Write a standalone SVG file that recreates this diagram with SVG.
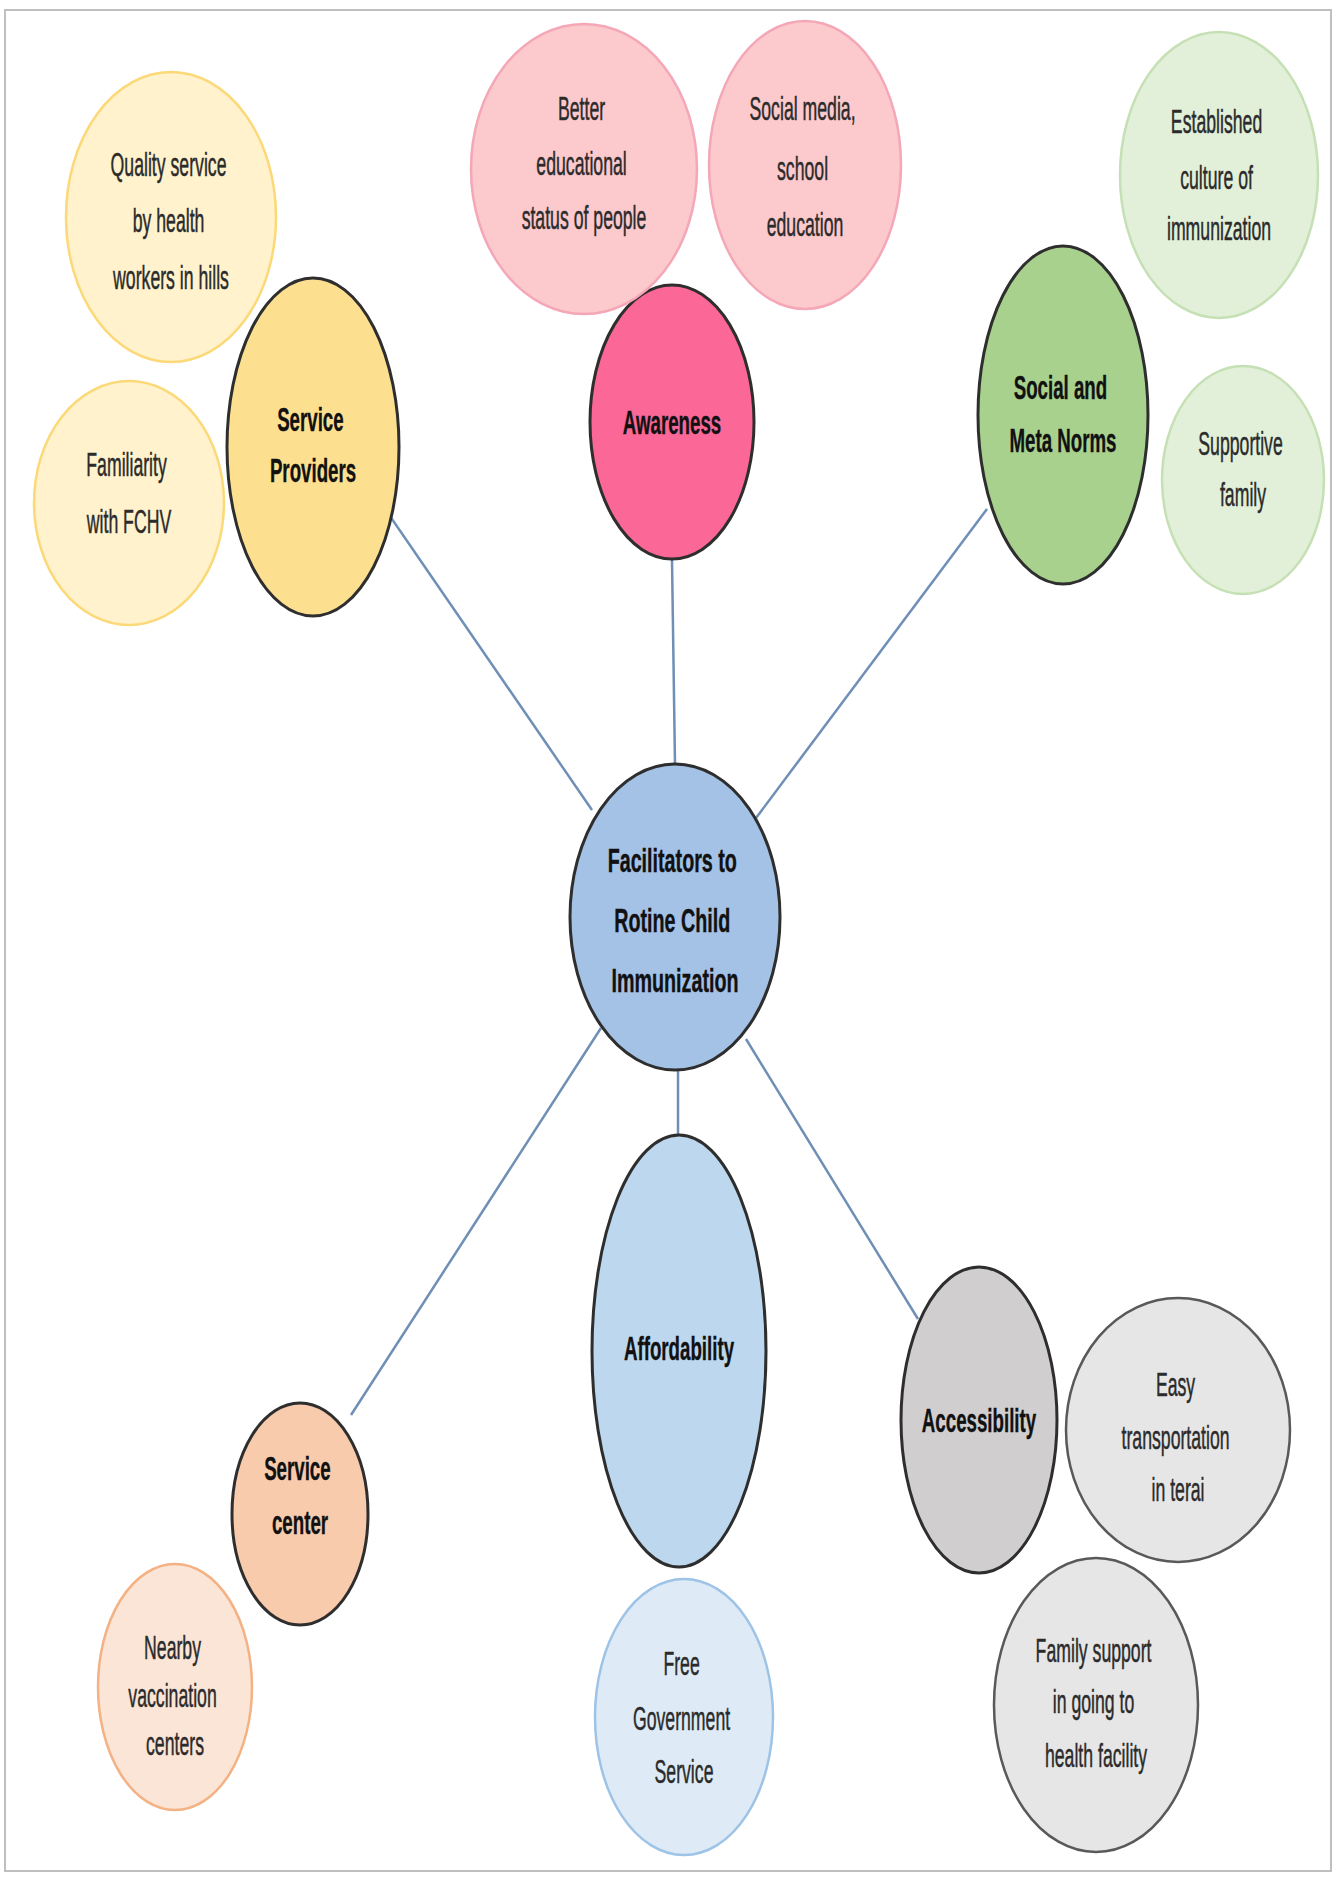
<svg xmlns="http://www.w3.org/2000/svg" width="1336" height="1878" viewBox="0 0 1336 1878">
  <style>
    .frame { fill: #ffffff; stroke: #bfbfbf; stroke-width: 2; }
    .link { stroke: #6f8fb6; stroke-width: 2.5; fill: none; }
    .main { stroke: #2e2e2e; stroke-width: 3; }
    .leaf { stroke-width: 2.5; }
    .t { font-family: "Liberation Sans", Arial, sans-serif; font-size: 34px; text-anchor: middle; fill: #2b2b2b; stroke: #2b2b2b; stroke-width: 0.5; }
    .b { font-weight: bold; fill: #111111; stroke: #111111; stroke-width: 0.4; }
  </style>

  <rect class="frame" x="5" y="10" width="1326" height="1861"/>

  <!-- spokes from the hub to each category -->
  <g id="connectors">
    <line class="link" x1="383" y1="506" x2="592" y2="810"/>
    <line class="link" x1="672" y1="560" x2="675" y2="764"/>
    <line class="link" x1="987" y1="509" x2="756" y2="818"/>
    <line class="link" x1="601" y1="1028" x2="351" y2="1415"/>
    <line class="link" x1="678" y1="1070" x2="678" y2="1136"/>
    <line class="link" x1="746" y1="1039" x2="918" y2="1319"/>
  </g>

  <!-- hub -->
  <g id="hub">
    <ellipse class="main" cx="675" cy="917" rx="105" ry="153" fill="#a3c2e6"/>
    <text class="t b" font-size="36" transform="matrix(0.58 0 0 1 675 0)">
      <tspan x="0" y="872">Facilitators to</tspan>
      <tspan x="0" y="932">Rotine Child</tspan>
      <tspan x="0" y="992">Immunization</tspan>
    </text>
  </g>

  <!-- Service Providers -->
  <g id="service-providers">
    <ellipse class="main" cx="313" cy="447" rx="86" ry="169" fill="#fde08f"/>
    <text class="t b" transform="matrix(0.55 0 0 1 313 0)">
      <tspan x="0" y="431">Service</tspan>
      <tspan x="0" y="482">Providers</tspan>
    </text>
  </g>
  <g id="quality-service">
    <ellipse class="leaf" cx="171" cy="217" rx="105" ry="145" fill="#fff2cc" stroke="#fcd978"/>
    <text class="t" transform="matrix(0.52 0 0 1 171 0)">
      <tspan x="0" y="176">Quality service</tspan>
      <tspan x="0" y="232">by health</tspan>
      <tspan x="0" y="289">workers in hills</tspan>
    </text>
  </g>
  <g id="familiarity-fchv">
    <ellipse class="leaf" cx="129" cy="503" rx="95" ry="122" fill="#fff2cc" stroke="#fcd978"/>
    <text class="t" transform="matrix(0.52 0 0 1 129 0)">
      <tspan x="0" y="476">Familiarity</tspan>
      <tspan x="0" y="533">with FCHV</tspan>
    </text>
  </g>

  <!-- Awareness -->
  <g id="awareness">
    <ellipse class="main" cx="672" cy="422" rx="82" ry="137" fill="#fb6797"/>
    <text class="t b" transform="matrix(0.55 0 0 1 672 0)">
      <tspan x="0" y="434">Awareness</tspan>
    </text>
  </g>
  <g id="educational-status">
    <ellipse class="leaf" cx="584" cy="169" rx="113" ry="145" fill="#fcc9cc" stroke="#f4a7b7"/>
    <text class="t" transform="matrix(0.52 0 0 1 584 0)">
      <tspan x="0" y="120">Better</tspan>
      <tspan x="0" y="175">educational</tspan>
      <tspan x="0" y="229">status of people</tspan>
    </text>
  </g>
  <g id="social-media">
    <ellipse class="leaf" cx="805" cy="165" rx="96" ry="144" fill="#fcc9cc" stroke="#f4a7b7"/>
    <text class="t" transform="matrix(0.52 0 0 1 805 0)">
      <tspan x="0" y="120">Social media,</tspan>
      <tspan x="0" y="180">school</tspan>
      <tspan x="0" y="236">education</tspan>
    </text>
  </g>

  <!-- Social and Meta Norms -->
  <g id="social-norms">
    <ellipse class="main" cx="1063" cy="415" rx="85" ry="169" fill="#a9d18e"/>
    <text class="t b" transform="matrix(0.55 0 0 1 1063 0)">
      <tspan x="0" y="399">Social and</tspan>
      <tspan x="0" y="452">Meta Norms</tspan>
    </text>
  </g>
  <g id="culture-immunization">
    <ellipse class="leaf" cx="1219" cy="175" rx="99" ry="143" fill="#e2f0d9" stroke="#c5e0b4"/>
    <text class="t" transform="matrix(0.52 0 0 1 1219 0)">
      <tspan x="0" y="133">Established</tspan>
      <tspan x="0" y="189">culture of</tspan>
      <tspan x="0" y="240">immunization</tspan>
    </text>
  </g>
  <g id="supportive-family">
    <ellipse class="leaf" cx="1243" cy="480" rx="81" ry="114" fill="#e2f0d9" stroke="#c5e0b4"/>
    <text class="t" transform="matrix(0.52 0 0 1 1243 0)">
      <tspan x="0" y="455">Supportive</tspan>
      <tspan x="0" y="506">family</tspan>
    </text>
  </g>

  <!-- Service center -->
  <g id="service-center">
    <ellipse class="main" cx="300" cy="1514" rx="68" ry="111" fill="#f8cbad"/>
    <text class="t b" transform="matrix(0.55 0 0 1 300 0)">
      <tspan x="0" y="1480">Service</tspan>
      <tspan x="0" y="1534">center</tspan>
    </text>
  </g>
  <g id="nearby-centers">
    <ellipse class="leaf" cx="175" cy="1687" rx="77" ry="123" fill="#fbe5d6" stroke="#f4b183"/>
    <text class="t" transform="matrix(0.52 0 0 1 175 0)">
      <tspan x="0" y="1659">Nearby</tspan>
      <tspan x="0" y="1707">vaccination</tspan>
      <tspan x="0" y="1755">centers</tspan>
    </text>
  </g>

  <!-- Affordability -->
  <g id="affordability">
    <ellipse class="main" cx="679" cy="1351" rx="87" ry="216" fill="#bdd7ee"/>
    <text class="t b" transform="matrix(0.55 0 0 1 679 0)">
      <tspan x="0" y="1360">Affordability</tspan>
    </text>
  </g>
  <g id="free-government">
    <ellipse class="leaf" cx="684" cy="1717" rx="89" ry="138" fill="#deebf7" stroke="#9dc3e6"/>
    <text class="t" transform="matrix(0.52 0 0 1 684 0)">
      <tspan x="0" y="1675">Free</tspan>
      <tspan x="0" y="1730">Government</tspan>
      <tspan x="0" y="1783">Service</tspan>
    </text>
  </g>

  <!-- Accessibility -->
  <g id="accessibility">
    <ellipse class="main" cx="979" cy="1420" rx="78" ry="153" fill="#d0cece"/>
    <text class="t b" transform="matrix(0.55 0 0 1 979 0)">
      <tspan x="0" y="1432">Accessibility</tspan>
    </text>
  </g>
  <g id="easy-transport">
    <ellipse class="leaf" cx="1178" cy="1430" rx="112" ry="132" fill="#e7e6e6" stroke="#595959"/>
    <text class="t" transform="matrix(0.52 0 0 1 1178 0)">
      <tspan x="0" y="1396">Easy</tspan>
      <tspan x="0" y="1449">transportation</tspan>
      <tspan x="0" y="1501">in terai</tspan>
    </text>
  </g>
  <g id="family-support">
    <ellipse class="leaf" cx="1096" cy="1705" rx="102" ry="147" fill="#e7e6e6" stroke="#595959"/>
    <text class="t" transform="matrix(0.52 0 0 1 1096 0)">
      <tspan x="0" y="1662">Family support</tspan>
      <tspan x="0" y="1713">in going to</tspan>
      <tspan x="0" y="1767">health facility</tspan>
    </text>
  </g>
</svg>
